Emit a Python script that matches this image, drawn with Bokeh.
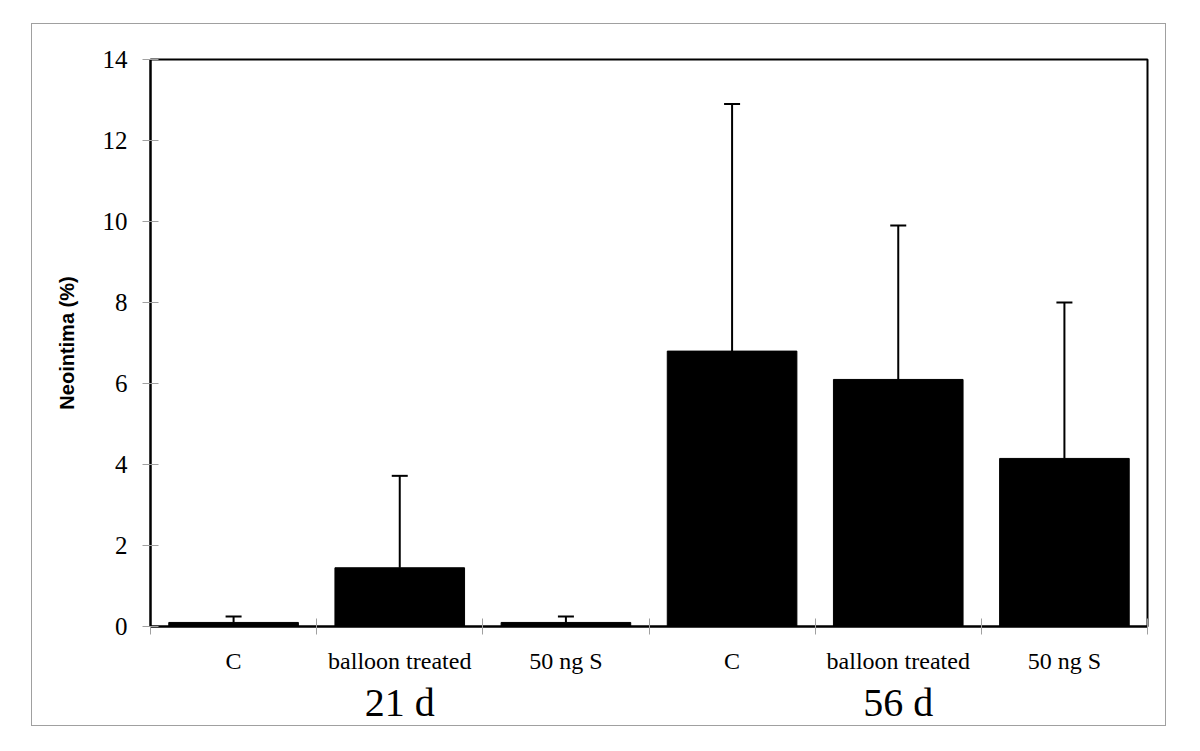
from bokeh.plotting import figure
from bokeh.models import (Range1d, LinearAxis, FixedTicker, ColumnDataSource, Whisker, TeeHead)
from bokeh.embed import file_html
from bokeh.resources import INLINE

# ---- data ----
groups = ["21 d", "56 d"]
treatments = ["C", "balloon treated", "50 ng S"]
means = [0.1, 1.45, 0.1, 6.8, 6.1, 4.15]
sds = [0.15, 2.27, 0.15, 6.1, 3.8, 3.85]
y_ticks = [0, 2, 4, 6, 8, 10, 12, 14]
y_label = "Neointima (%)"

n = len(means)
labels = [t for g in groups for t in treatments]
xs = list(range(n))
upper = [m + s for m, s in zip(means, sds)]
src = ColumnDataSource(dict(x=xs, top=means, upper=upper))
nt = len(treatments)
group_pos = [gi * nt + (nt - 1) // 2 for gi in range(len(groups))]
boundaries = [i - 0.5 for i in range(n + 1)]

SERIF = "Liberation Serif"
GRAY = "#a0a0a0"

p = figure(width=1135, height=703,
           x_range=Range1d(-0.5, n - 0.5), y_range=Range1d(0, 14),
           x_axis_location=None, y_axis_location=None,
           output_backend="svg", toolbar_location=None,
           min_border_left=118, min_border_right=20, min_border_top=35, min_border_bottom=100)
p.margin = (23, 0, 0, 31)
p.styles = {"border": "1px solid " + GRAY}
p.xgrid.visible = False
p.ygrid.visible = False
p.outline_line_color = "black"
p.outline_line_width = 2
p.background_fill_color = "white"
p.border_fill_color = "white"

# y axis
yaxis = LinearAxis(ticker=FixedTicker(ticks=y_ticks), axis_label=y_label,
                   axis_line_color="black", axis_line_width=2,
                   major_tick_in=8, major_tick_out=8, major_tick_line_color=GRAY,
                   major_tick_line_width=1, minor_tick_line_color=None,
                   major_label_text_font=SERIF, major_label_text_font_size="25px",
                   major_label_text_color="black", major_label_standoff=15,
                   axis_label_text_font="Liberation Sans", axis_label_text_font_style="bold",
                   axis_label_text_font_size="20px", axis_label_text_color="black",
                   axis_label_standoff=22)
p.add_layout(yaxis, "left")

# x axis: boundary ticks (minor) + category labels (major, no tick marks)
xc = LinearAxis(ticker=FixedTicker(ticks=xs, minor_ticks=boundaries),
                major_label_overrides={i: lab for i, lab in zip(xs, labels)},
                axis_line_color="black", axis_line_width=2,
                major_tick_line_color=None, major_tick_in=0, major_tick_out=0,
                minor_tick_line_color=GRAY, minor_tick_line_width=1,
                minor_tick_in=8, minor_tick_out=8,
                major_label_text_font=SERIF, major_label_text_font_size="24px",
                major_label_text_color="black", major_label_standoff=13)
p.add_layout(xc, "below")

# group labels
xg = LinearAxis(ticker=FixedTicker(ticks=group_pos),
                major_label_overrides={pos: g for pos, g in zip(group_pos, groups)},
                axis_line_color=None, major_tick_line_color=None, minor_tick_line_color=None,
                major_tick_in=0, major_tick_out=0,
                major_label_text_font=SERIF, major_label_text_font_size="40px",
                major_label_text_color="black", major_label_standoff=3)
p.add_layout(xg, "below")

p.vbar(x="x", top="top", width=0.78, source=src,
       fill_color="black", line_color="black")

wh = Whisker(source=src, base="x", upper="upper", lower="top",
             line_color="black", line_width=2,
             upper_head=TeeHead(size=16, line_width=2, line_color="black"), lower_head=None)
p.add_layout(wh)

open("out.html", "w").write(file_html(p, INLINE))
